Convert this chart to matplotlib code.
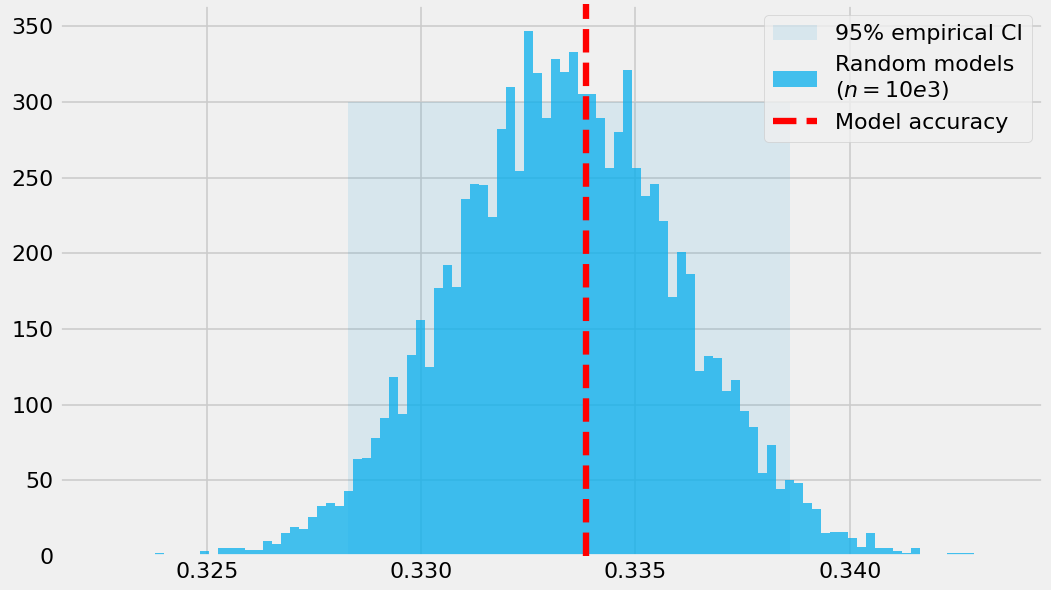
import numpy as np
import matplotlib
matplotlib.use("Agg")
import matplotlib.pyplot as plt
from matplotlib.ticker import MultipleLocator

# ---- data ----
hist_start = 0.32379      # left edge of first bin
bin_width = 0.00021       # width of each bin
counts = [2, 0, 0, 0, 0, 3, 0, 5, 5, 5,
          4, 4, 10, 8, 15, 19, 18, 26, 33, 35,
          33, 43, 64, 65, 78, 91, 118, 94, 133, 156,
          125, 177, 192, 178, 236, 246, 245, 224, 282, 310,
          254, 347, 319, 289, 328, 320, 333, 305, 305, 289,
          256, 280, 321, 256, 238, 246, 221, 171, 201, 186,
          122, 132, 131, 109, 116, 96, 85, 55, 73, 44,
          50, 48, 35, 31, 15, 16, 16, 12, 6, 15,
          5, 5, 3, 2, 5, 0, 0, 0, 2, 2, 2]
ci_low = 0.32830
ci_high = 0.33860
ci_top = 300
model_acc = 0.33384
xticks = [0.325, 0.330, 0.335, 0.340]
yticks = [0, 50, 100, 150, 200, 250, 300, 350]

plt.style.use("fivethirtyeight")
DPI = 114
fig = plt.figure(figsize=(1051 / DPI, 590 / DPI), dpi=DPI)
W, H = 1051, 590
ax = fig.add_axes([59 / W, (H - 556) / H, (1043 - 59) / W, (556 - 4.3) / H])

edges = hist_start + bin_width * np.arange(len(counts) + 1)

ax.fill_between([ci_low, ci_high], 0, ci_top, color="#008fd5", alpha=0.1,
                linewidth=0, label="95% empirical CI", zorder=1)
ax.stairs(counts, edges, fill=True, color=(8 / 255, 175 / 255, 237 / 255),
          alpha=0.75, linewidth=0, label="Random models\n($n = 10e3$)", zorder=2)
ax.axvline(model_acc, color="red", linestyle="--", linewidth=4,
           label="Model accuracy", zorder=3)

ax.set_xlim(0.321556, 0.344503)
ax.set_ylim(0, 364.4)
ax.set_xticks(xticks)
ax.set_xticklabels([f"{t:.3f}" for t in xticks])
ax.set_yticks(yticks)
ax.tick_params(labelsize=14)

ax.legend(loc="upper right", fontsize=14)

fig.savefig("out.png", dpi=DPI, facecolor=fig.get_facecolor())
